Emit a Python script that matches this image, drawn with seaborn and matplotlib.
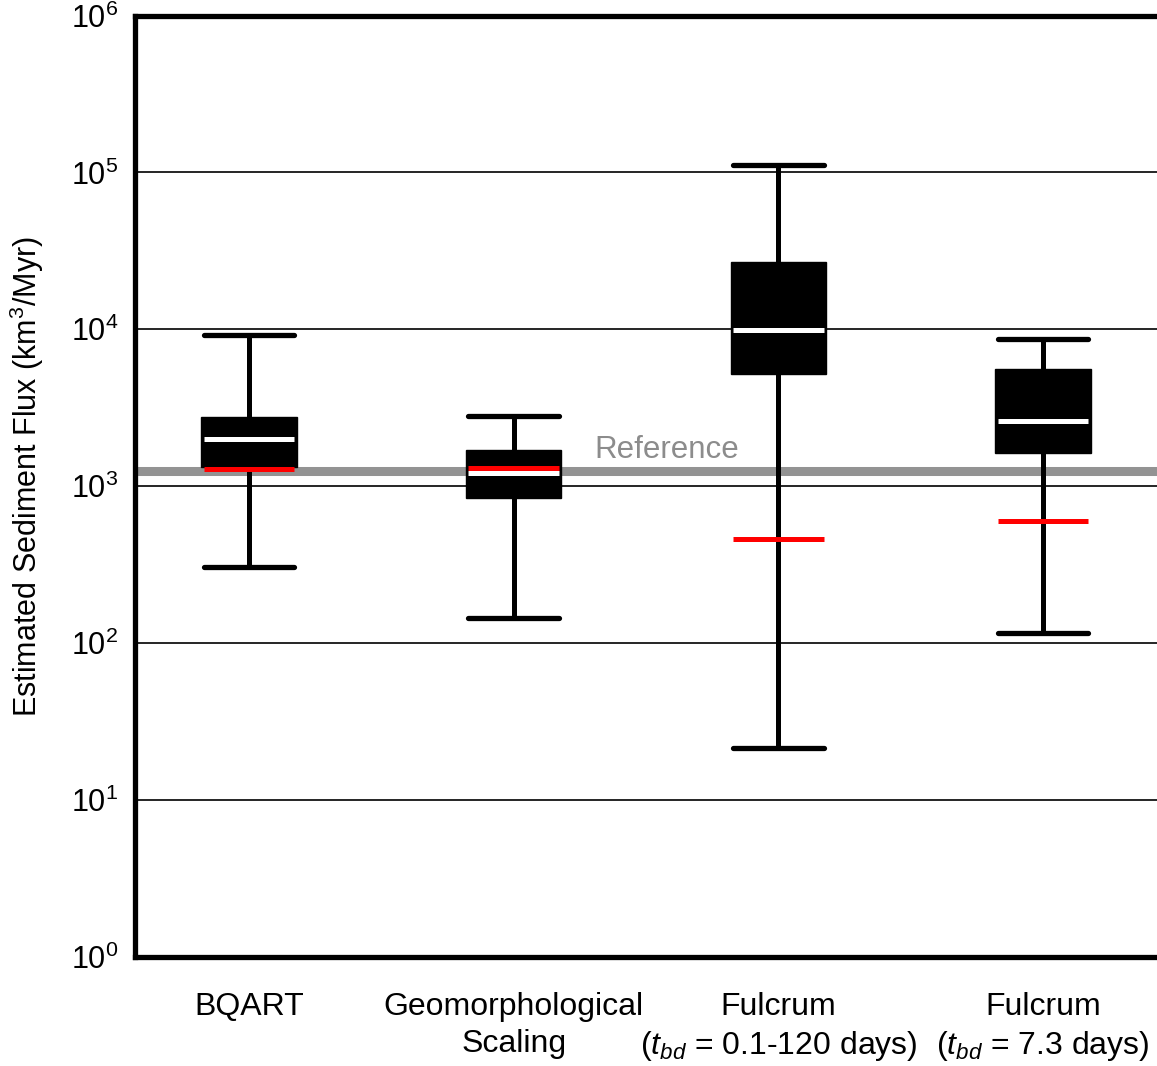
import numpy as np
import pandas as pd
import matplotlib
matplotlib.use("Agg")
import matplotlib.pyplot as plt
import seaborn as sns

# values (km^3/Myr)
methods = ["BQART", "Geomorphological\nScaling",
           "Fulcrum\n($t_{bd}$ = 0.1-120 days)",
           "Fulcrum\n($t_{bd}$ = 7.3 days)"]
whisker_low = [308, 144, 21.4, 116]
q1 = [1320, 840, 5170, 1620]
median = [1990, 1210, 9860, 2590]
q3 = [2750, 1695, 26700, 5560]
whisker_high = [9160, 2790, 112000, 8640]
red_vals = [1283, 1302, 460, 598]
reference = 1250

# five points per method -> exact quartiles with whis=(0, 100)
rows = []
for i, m in enumerate(methods):
    for v in [whisker_low[i], q1[i], median[i], q3[i], whisker_high[i]]:
        rows.append([m, v])
df = pd.DataFrame(rows, columns=["method", "flux"])

sns.set_style("white")
plt.rcParams["font.family"] = ["Liberation Sans", "DejaVu Sans"]
plt.rcParams["mathtext.fontset"] = "custom"
plt.rcParams["mathtext.rm"] = "Liberation Sans"
plt.rcParams["mathtext.it"] = "Liberation Sans:italic"
plt.rcParams["mathtext.bf"] = "Liberation Sans:bold"
for k in ["text.color", "axes.labelcolor", "xtick.color", "ytick.color"]:
    plt.rcParams[k] = "black"

fig = plt.figure(figsize=(11.57, 10.66), dpi=100)
ax = fig.add_axes([135 / 1157, 1 - 957 / 1066, 1 - 135 / 1157, (957 - 15.5) / 1066])

box_w = 0.36
sns.boxplot(data=df, x="method", y="flux", ax=ax, log_scale=True,
            whis=(0, 100), width=box_w, color="black", linecolor="black",
            showfliers=False, linewidth=1,
            boxprops=dict(facecolor="black", edgecolor="black", zorder=2),
            whiskerprops=dict(linewidth=3.6, color="black", zorder=2),
            capprops=dict(linewidth=3.8, color="black", zorder=2),
            medianprops=dict(linewidth=3.6, color="white", zorder=2.5))

# caps and medians slightly narrower than box
half = box_w * 0.95 / 2
for ln in ax.lines:
    xd = np.asarray(ln.get_xdata(), dtype=float)
    yd = np.asarray(ln.get_ydata(), dtype=float)
    if len(xd) == 2 and yd[0] == yd[1] and xd[0] != xd[1]:
        c = xd.mean()
        ln.set_xdata([c - half, c + half])

pos = np.arange(len(methods))
ax.hlines(red_vals, pos - half, pos + half, colors="#ff0000", linewidth=3.6, zorder=3)
ax.axhline(reference, color="#939393", linewidth=6.5, zorder=1.5)
ax.text(1.58, 1510, "Reference", color="#8c8c8c", fontsize=22.5,
        ha="center", va="baseline")

ax.set_ylim(1, 1e6)
ax.set_xlim(-0.43, 3.43)
ax.set_xlabel("")
ax.xaxis.label.set_visible(False)
ax.set_ylabel("Estimated Sediment Flux (km$^3$/Myr)", fontsize=22)
ax.yaxis.set_label_coords(-0.087, 0.51)
ax.set_axisbelow(True)
ax.yaxis.grid(True, which="major", color="black", linewidth=1.2)
ax.xaxis.grid(False)
ax.minorticks_off()
ax.tick_params(axis="y", length=0, labelsize=22, pad=12)
ax.tick_params(axis="x", length=0, labelsize=23, pad=25)
for lab in ax.get_xticklabels():
    lab.set_ha("center")
    lab.set_linespacing(1.3)

for s in ["left", "top", "bottom"]:
    ax.spines[s].set_linewidth(3.8)
    ax.spines[s].set_color("black")
ax.spines["right"].set_visible(False)

fig.savefig("out.png", dpi=100)
